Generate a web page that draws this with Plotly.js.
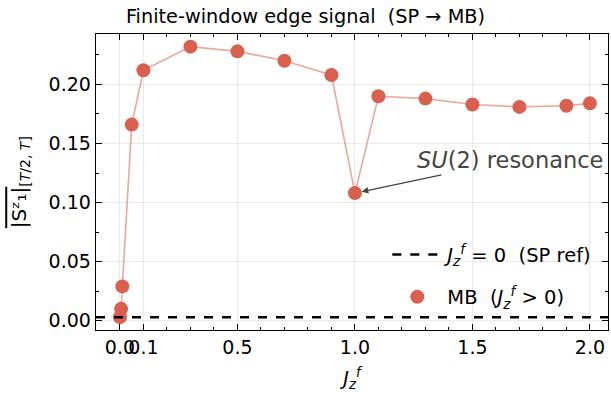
<!DOCTYPE html>
<html>
<head>
<meta charset="utf-8">
<script src="https://cdn.plot.ly/plotly-3.0.1.min.js"></script>
<style>html,body{margin:0;padding:0;background:#fff;}#chart{width:611px;height:398px;}</style>
</head>
<body>
<div id="chart"></div>
<script>
// Data
const jz = [0, 0.005, 0.01, 0.05, 0.1, 0.3, 0.5, 0.7, 0.9, 1.0, 1.1, 1.3, 1.5, 1.7, 1.9, 2.0];
const szMB = [0.003, 0.010, 0.029, 0.166, 0.212, 0.232, 0.228, 0.220, 0.208, 0.108, 0.190, 0.188, 0.183, 0.181, 0.182, 0.184];
const spRef = 0.003;
const xTickVals = [0, 0.1, 0.5, 1.0, 1.5, 2.0];
const xTickText = ['0.0', '0.1', '0.5', '1.0', '1.5', '2.0'];
const yTickVals = [0, 0.05, 0.10, 0.15, 0.20];
const yTickText = ['0.00', '0.05', '0.10', '0.15', '0.20'];
const resonanceX = 1.0;
const resonanceY = 0.108;

const red = '#d9604f';
const font = 'DejaVu Sans, sans-serif';
const NB = '\u00A0';

const traces = [
  {
    x: jz, y: szMB, type: 'scatter', mode: 'lines',
    line: {color: 'rgba(217,96,79,0.55)', width: 1.6},
    showlegend: false, hoverinfo: 'skip'
  },
  {
    x: jz, y: szMB, type: 'scatter', mode: 'markers',
    marker: {color: red, size: 14},
    name: 'MB' + NB + NB + '(<i>J</i><sub><i>z</i></sub><sup><i>f</i></sup>' + NB + '>' + NB + '0)',
    legendgroup: 'b', legendrank: 2
  }
];

const layout = {
  width: 611, height: 398,
  margin: {l: 96, r: 3, t: 33.5, b: 68},
  paper_bgcolor: '#fff', plot_bgcolor: '#fff',
  font: {family: font, color: '#000', size: 19},
  title: {
    text: 'Finite-window edge signal' + NB + NB + '(SP' + NB + '\u2192' + NB + 'MB)',
    font: {family: font, size: 19.3, color: '#000'},
    x: 0.5, xref: 'container', xanchor: 'center',
    y: 1 - 16/398, yref: 'container', yanchor: 'middle'
  },
  xaxis: {
    range: [-0.102, 2.077],
    tickmode: 'array', tickvals: xTickVals, ticktext: xTickText, tickangle: 0,
    ticks: 'inside', ticklen: 6, tickwidth: 1, tickcolor: '#000',
    showline: true, linecolor: '#000', linewidth: 1.3, mirror: 'allticks',
    showgrid: true, gridcolor: '#e6e6e6', gridwidth: 0.8,
    zeroline: false,
    minor: {ticks: 'inside', ticklen: 3, dtick: 0.1, tick0: 0, tickcolor: '#000', showgrid: false},
    tickfont: {size: 19, family: font},
    title: {text: '<i>J</i><sub><i>z</i></sub><sup><i>f</i></sup>', font: {size: 19, family: font}, standoff: 14},
    automargin: false
  },
  yaxis: {
    range: [-0.0079, 0.2427],
    tickmode: 'array', tickvals: yTickVals, ticktext: yTickText,
    ticks: 'inside', ticklen: 6, tickwidth: 1, tickcolor: '#000',
    showline: true, linecolor: '#000', linewidth: 1.3, mirror: 'allticks',
    showgrid: true, gridcolor: '#e6e6e6', gridwidth: 0.8,
    zeroline: false,
    minor: {ticks: 'inside', ticklen: 3, dtick: 0.025, tick0: 0, tickcolor: '#000', showgrid: false},
    tickfont: {size: 19, family: font},
    automargin: false
  },
  shapes: [
    {
      type: 'line', xref: 'paper', x0: 0, x1: 1, yref: 'y', y0: spRef, y1: spRef,
      line: {color: '#000', width: 2.5, dash: 'dash'},
      showlegend: true, legendgroup: 'a', legendrank: 1,
      name: '<i>J</i><sub><i>z</i></sub><sup><i>f</i></sup>' + NB + '=' + NB + '0' + NB + NB + '(SP' + NB + 'ref)'
    }
  ],
  legend: {
    x: 0.985, xanchor: 'right', y: 0.32, yanchor: 'top',
    bgcolor: 'rgba(255,255,255,0)', borderwidth: 0,
    font: {size: 19.5, family: font, color: '#000'},
    tracegroupgap: 14, traceorder: 'grouped', itemwidth: 50
  },
  annotations: [
    {
      x: resonanceX, y: resonanceY, xref: 'x', yref: 'y',
      ax: 1.66, ay: 0.1358, axref: 'x', ayref: 'y',
      text: '<i>SU</i>(2) resonance',
      font: {size: 22.5, family: font, color: '#444'},
      showarrow: true, arrowhead: 2, arrowsize: 1, arrowwidth: 1.3, arrowcolor: '#444',
      standoff: 7
    },
    {
      xref: 'paper', yref: 'paper', x: -0.148, y: 0.5, xanchor: 'center', yanchor: 'middle',
      textangle: -90, showarrow: false,
      text: '<span style="text-decoration:overline">|S\u1DBB\u2081|</span><sub>[<i>T</i>/2,' + NB + '<i>T</i>]</sub>',
      font: {size: 20, family: font, color: '#000'}
    }
  ]
};

Plotly.newPlot('chart', traces, layout, {displayModeBar: false, staticPlot: true});
</script>
</body>
</html>
